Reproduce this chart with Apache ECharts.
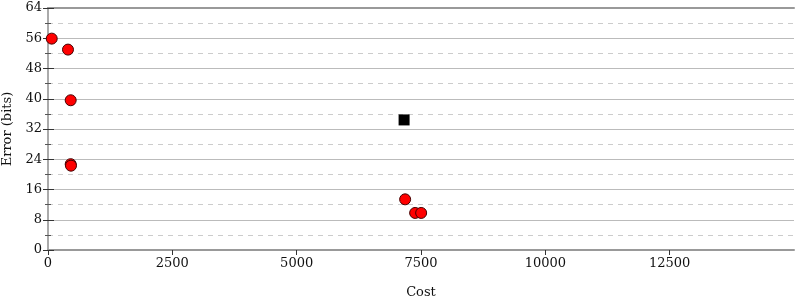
<!DOCTYPE html>
<html>
<head>
<meta charset="utf-8">
<script src="https://cdn.jsdelivr.net/npm/echarts@6/dist/echarts.min.js"></script>
<style>html,body{margin:0;padding:0;background:#fff}#c{width:800px;height:300px}</style>
</head>
<body>
<div id="c"></div>
<script>
var circleCost = [75, 402, 456, 456, 462, 7181, 7382, 7503];
var circleError = [55.9, 53.0, 39.6, 22.7, 22.3, 13.4, 9.8, 9.8];
var squareCost = [7160];
var squareError = [34.4];
var xTitle = 'Cost';
var yTitle = 'Error (bits)';

function pairs(xs, ys){ return xs.map(function(x,i){ return [x, ys[i]]; }); }

var font = 'DejaVu Serif';
var chart = echarts.init(document.getElementById('c'));
var yCommon = {
  type: 'value', min: 0, max: 64, interval: 8,
  axisLine: {show: true, lineStyle: {color: '#aaa', width: 2}},
  minorTick: {show: true, splitNumber: 2, length: 3, lineStyle: {color: '#555'}},
  splitLine: {show: false},
  minorSplitLine: {show: false}
};
chart.setOption({
  animation: false,
  grid: {left: 48, right: 6, top: 8, bottom: 50, containLabel: false, outerBoundsMode: 'none'},
  xAxis: [{
    type: 'value', min: 0, max: 15000, interval: 2500,
    name: xTitle, nameLocation: 'middle', nameGap: 36,
    nameTextStyle: {fontFamily: font, fontSize: 13, color: '#111'},
    axisLine: {show: true, onZero: false, lineStyle: {color: '#999', width: 2}},
    axisTick: {show: true, length: 5, lineStyle: {color: '#333'}},
    axisLabel: {fontFamily: font, fontSize: 13, color: '#111', showMaxLabel: false, margin: 7,
      formatter: function(v){ return String(v); }},
    splitLine: {show: false}
  }, {
    type: 'value', min: 0, max: 15000, position: 'top',
    axisLine: {show: true, onZero: false, lineStyle: {color: '#999', width: 2}},
    axisTick: {show: false}, axisLabel: {show: false}, splitLine: {show: false}
  }],
  yAxis: [Object.assign({}, yCommon, {
    position: 'left',
    name: yTitle, nameLocation: 'middle', nameGap: 30, nameRotate: 90,
    nameTextStyle: {fontFamily: font, fontSize: 13, color: '#111'},
    axisTick: {show: true, length: 5, lineStyle: {color: '#333'}},
    axisLabel: {fontFamily: font, fontSize: 13, color: '#111', margin: 6},
    splitLine: {show: true, lineStyle: {color: '#bbb', width: 1}},
    minorSplitLine: {show: true, lineStyle: {color: '#ccc', type: [5, 5], width: 1}}
  }), Object.assign({}, yCommon, {
    position: 'right',
    axisTick: {show: true, length: 6, lineStyle: {color: '#333'}},
    axisLabel: {show: false}
  })],
  series: [{
    type: 'scatter', xAxisIndex: 0, yAxisIndex: 0,
    data: pairs(circleCost, circleError),
    symbol: 'circle', symbolSize: 11,
    itemStyle: {color: '#ff0000', borderColor: '#400', borderWidth: 1, opacity: 1}
  }, {
    type: 'scatter', xAxisIndex: 0, yAxisIndex: 0,
    data: pairs(squareCost, squareError),
    symbol: 'rect', symbolSize: 11,
    itemStyle: {color: '#000', opacity: 1}
  }]
});
</script>
</body>
</html>
